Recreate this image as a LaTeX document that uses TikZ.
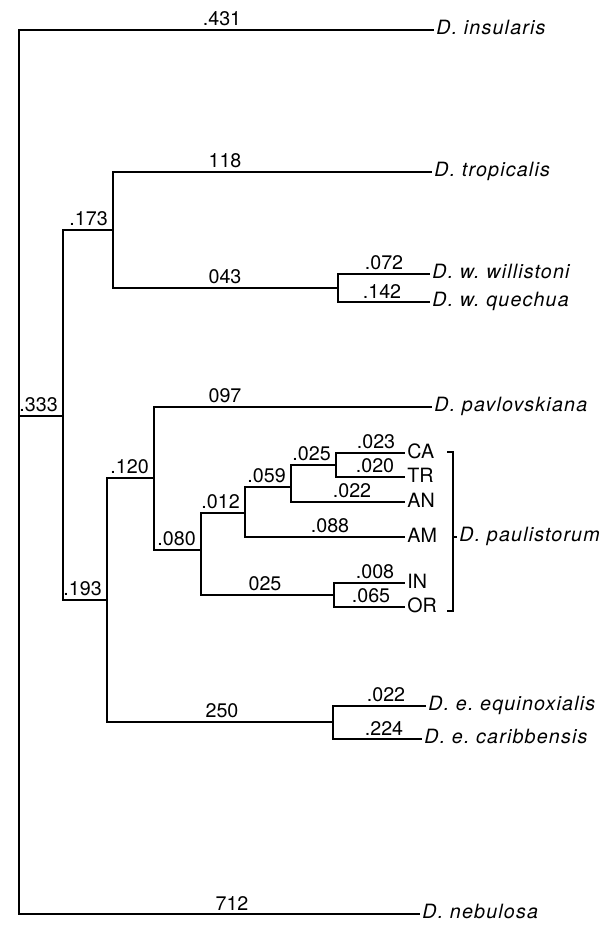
\documentclass[tikz,border=0pt]{standalone}
\usepackage{fontspec}
\setmainfont{TeX Gyre Heros}
\usepackage{tikz}
\usetikzlibrary{arrows.meta,positioning}

\begin{document}
\begin{tikzpicture}[
            x=0.025cm, y=-0.025cm,
            every node/.style={font=\fontsize{14}{16}\selectfont},
            branch/.style={line width=1.3pt},
            taxon/.style={anchor=west, inner sep=1.5pt,
                font=\fontsize{14}{16}\selectfont\itshape\addfontfeatures{LetterSpace=6},
                text height=1.6ex, text depth=.3ex},
            pop/.style={anchor=west, inner sep=1.5pt, text height=1.6ex, text depth=0pt},
            len/.style={above, inner sep=1pt, yshift=1.5pt},
            nodelen/.style={anchor=south east, inner sep=1pt, xshift=-2.5pt, yshift=2pt}
        ]
        \useasboundingbox (0,0) rectangle (603,927);

        %================================================
        % Tips
        %================================================
        \node[taxon] (ins) at (434,30) {D.\ insularis};
        \node[taxon] (tro) at (432,172) {D.\ tropicalis};
        \node[taxon] (wil) at (430,274) {D.\ w.\ willistoni};
        \node[taxon] (que) at (430,302) {D.\ w.\ quechua};
        \node[taxon] (pav) at (432,407) {D.\ pavlovskiana};
        \node[pop] (CA) at (405,453) {CA};
        \node[pop] (TR) at (405,477) {TR};
        \node[pop] (AN) at (405,502) {AN};
        \node[pop] (AM) at (405,537) {AM};
        \node[pop] (IN) at (405,583) {IN};
        \node[pop] (OR) at (405,607) {OR};
        \node[taxon] (equ) at (426,706) {D.\ e.\ equinoxialis};
        \node[taxon] (car) at (422,739) {D.\ e.\ caribbensis};
        \node[taxon] (neb) at (420,914) {D.\ nebulosa};
        \node[taxon] (pau) at (457,537) {D.\ paulistorum};

        %================================================
        % Internal nodes
        %================================================
        \coordinate (r) at (19,416);
        \coordinate (j333) at (63,416);
        \coordinate (j173) at (113,230);
        \coordinate (jwil) at (338,288);
        \coordinate (j193) at (107,600);
        \coordinate (j120) at (154,478);
        \coordinate (j080) at (201,550);
        \coordinate (j012) at (245,513);
        \coordinate (j059) at (291,487);
        \coordinate (j025) at (336,465);
        \coordinate (jIO) at (334,595);
        \coordinate (jequ) at (333,722);

        %================================================
        % Branches
        %================================================
        \draw[branch] (r) |- (ins.west);
        \draw[branch] (r) |- (neb.west);
        \draw[branch] (r) -- (j333);

        \draw[branch] (j333) |- (j173);
        \draw[branch] (j333) |- (j193);

        \draw[branch] (j173) |- (tro.west);
        \draw[branch] (j173) |- (jwil);
        \draw[branch] (jwil) |- (wil.west);
        \draw[branch] (jwil) |- (que.west);

        \draw[branch] (j193) |- (j120);
        \draw[branch] (j193) |- (jequ);
        \draw[branch] (jequ) |- (equ.west);
        \draw[branch] (jequ) |- (car.west);

        \draw[branch] (j120) |- (pav.west);
        \draw[branch] (j120) |- (j080);
        \draw[branch] (j080) |- (j012);
        \draw[branch] (j080) |- (jIO);
        \draw[branch] (j012) |- (j059);
        \draw[branch] (j012) |- (AM.west);
        \draw[branch] (j059) |- (j025);
        \draw[branch] (j059) |- (AN.west);
        \draw[branch] (j025) |- (CA.west);
        \draw[branch] (j025) |- (TR.west);
        \draw[branch] (jIO) |- (IN.west);
        \draw[branch] (jIO) |- (OR.west);

        % bracket for the semispecies
        \coordinate (bt) at (447,452);
        \coordinate (bm) at (453,537);
        \coordinate (bb) at (447,611);
        \draw[line width=1pt] (bt) -| (bm) |- (bb);
        \draw[line width=1pt] (bm) -- (pau.west);

        %================================================
        % Branch lengths
        %================================================
        \node[len] (l431) at (222,30) {.431};
        \node[len] (l118) at (225,172) {118};
        \node[len] (l043) at (225,288) {043};
        \node[len] (l072) at (384,274) {.072};
        \node[len] (l142) at (382,302) {.142};
        \node[len] (l097) at (225,407) {097};
        \node[len] (l023) at (376,453) {.023};
        \node[len] (l020) at (375,477) {.020};
        \node[len] (l022a) at (352,502) {.022};
        \node[len] (l088) at (330,537) {.088};
        \node[len] (l025b) at (265,595) {025};
        \node[len] (l008) at (375,583) {.008};
        \node[len] (l065) at (371,607) {.065};
        \node[len] (l250) at (222,722) {250};
        \node[len] (l022b) at (386,706) {.022};
        \node[len] (l224) at (384,739) {.224};
        \node[len] (l712) at (232,914) {712};

        \node[nodelen] (l333) at (j333) {.333};
        \node[nodelen] (l173) at (j173) {.173};
        \node[nodelen] (l193) at (j193) {.193};
        \node[nodelen] (l120) at (j120) {.120};
        \node[nodelen] (l080) at (j080) {.080};
        \node[nodelen] (l012) at (j012) {.012};
        \node[nodelen] (l059) at (j059) {.059};
        \node[nodelen] (l025) at (j025) {.025};

        \end{tikzpicture}
\end{document}
